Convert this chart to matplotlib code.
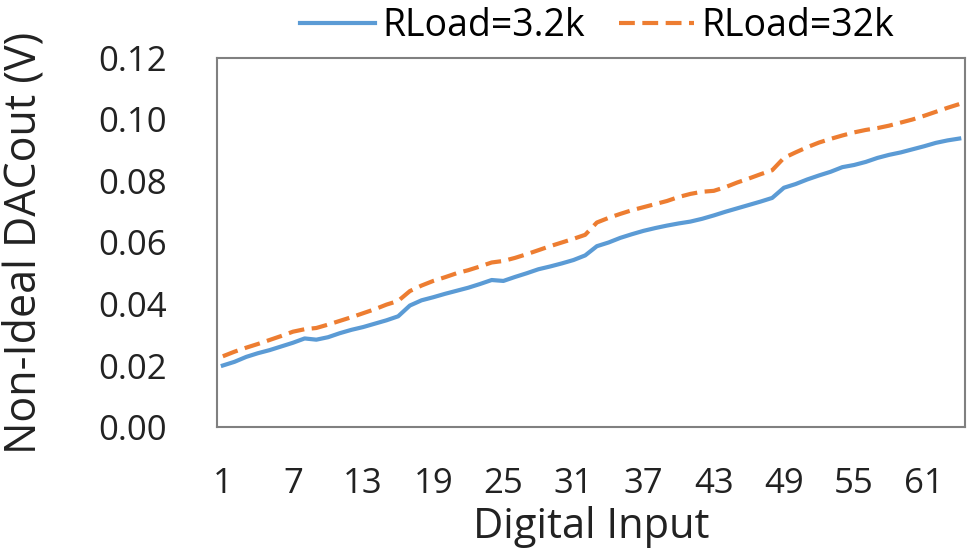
import numpy as np
import matplotlib
matplotlib.use('Agg')
import matplotlib.pyplot as plt

# Digital input codes 1..64
codes = np.arange(1, 65)

# Non-ideal DAC output (V)
dac_3k2 = [0.0200, 0.0212, 0.0228, 0.0240, 0.0250, 0.0262, 0.0274, 0.0288,
           0.0284, 0.0292, 0.0305, 0.0316, 0.0325, 0.0336, 0.0347, 0.0360,
           0.0395, 0.0412, 0.0422, 0.0433, 0.0443, 0.0453, 0.0465, 0.0478,
           0.0475, 0.0488, 0.0500, 0.0513, 0.0522, 0.0532, 0.0543, 0.0558,
           0.0588, 0.0600, 0.0615, 0.0627, 0.0638, 0.0647, 0.0655, 0.0662,
           0.0668, 0.0677, 0.0688, 0.0700, 0.0711, 0.0722, 0.0733, 0.0745,
           0.0778, 0.0790, 0.0805, 0.0818, 0.0830, 0.0845, 0.0852, 0.0862,
           0.0875, 0.0885, 0.0893, 0.0903, 0.0913, 0.0924, 0.0932, 0.0938]

dac_32k = [0.0230, 0.0245, 0.0258, 0.0270, 0.0283, 0.0296, 0.0310, 0.0318,
           0.0322, 0.0333, 0.0345, 0.0357, 0.0370, 0.0383, 0.0398, 0.0410,
           0.0442, 0.0460, 0.0475, 0.0487, 0.0500, 0.0510, 0.0522, 0.0535,
           0.0540, 0.0550, 0.0562, 0.0575, 0.0588, 0.0600, 0.0612, 0.0625,
           0.0665, 0.0680, 0.0693, 0.0705, 0.0715, 0.0725, 0.0735, 0.0748,
           0.0758, 0.0765, 0.0768, 0.0780, 0.0795, 0.0808, 0.0822, 0.0835,
           0.0875, 0.0893, 0.0910, 0.0925, 0.0937, 0.0948, 0.0958, 0.0966,
           0.0972, 0.0980, 0.0990, 0.1000, 0.1012, 0.1025, 0.1038, 0.1050]

xticks = list(range(1, 65, 6))
yticks = [0.00, 0.02, 0.04, 0.06, 0.08, 0.10, 0.12]

plt.rcParams['font.family'] = ['Open Sans', 'DejaVu Sans']

fig = plt.figure(figsize=(9.67, 5.56), dpi=100)
ax = fig.add_axes([0.2244, 0.232, 0.7736, 0.6637])

ax.plot(codes, dac_3k2, color='#5B9BD5', lw=3, label='RLoad=3.2k')
ax.plot(codes, dac_32k, color='#ED7D31', lw=3, ls=(0, (3.8, 1.8)), label='RLoad=32k')

ax.set_xlim(0.5, 64.5)
ax.set_ylim(0, 0.12)
ax.set_xticks(xticks)
ax.set_yticks(yticks)
ax.set_yticklabels(['{:.2f}'.format(v) for v in yticks])
ax.tick_params(axis='both', length=0, labelsize=25, colors='#222222')
ax.tick_params(axis='x', pad=29)
ax.tick_params(axis='y', pad=36)

for sp in ax.spines.values():
    sp.set_color('#808080')
    sp.set_linewidth(1.5)

ax.set_xlabel('Digital Input', fontsize=30, color='#222222')
ax.xaxis.set_label_coords(0.5, -0.215)
ax.set_ylabel('Non-Ideal DACout (V)', fontsize=31, color='#222222')
ax.yaxis.set_label_coords(-0.228, 0.5)

ax.legend(loc='center', bbox_to_anchor=(0.508, 1.087), ncol=2, frameon=False,
          fontsize=27, handlelength=2.0, handletextpad=0.2, columnspacing=0.9,
          borderaxespad=0, borderpad=0)

fig.savefig('out.png', dpi=100)
